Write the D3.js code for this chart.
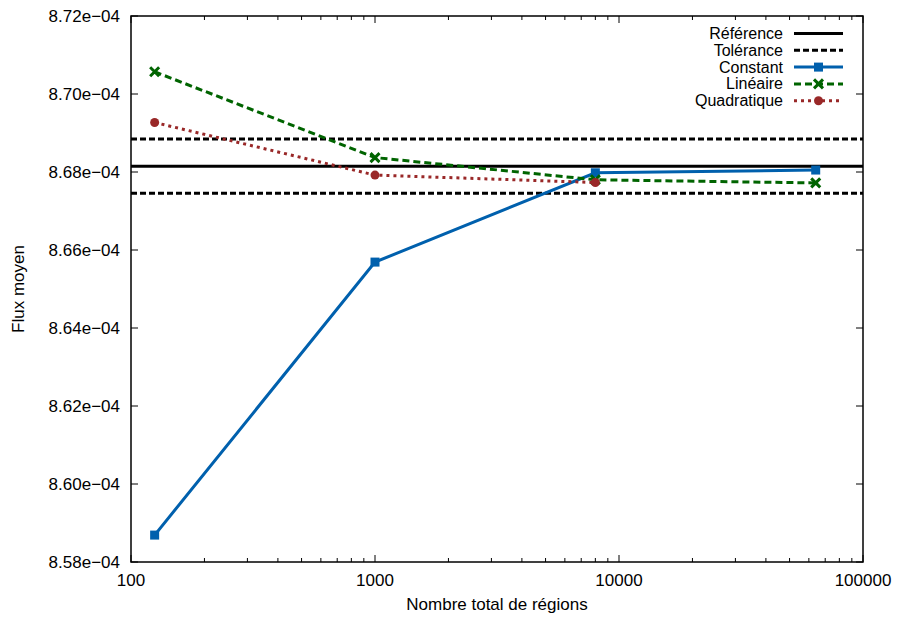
<!DOCTYPE html>
<html><head><meta charset="utf-8">
<script src="https://cdn.jsdelivr.net/npm/d3@7"></script>
<style>body{margin:0;background:#fff}svg text{font-family:"Liberation Sans",Arial,sans-serif;fill:#000}</style>
</head><body><svg id="c" width="897" height="617"></svg>
<script>
const regions = [125, 1000, 8000, 64000];
const constant = [8.5869e-4, 8.6569e-4, 8.6798e-4, 8.6805e-4];
const lineaire = [8.7057e-4, 8.6837e-4, 8.6780e-4, 8.6772e-4];
const quadratique = [8.6927e-4, 8.6792e-4, 8.6773e-4];
const reference = 8.6815e-4;
const tolerance = 0.0008;
const yTicks = [8.58e-4, 8.60e-4, 8.62e-4, 8.64e-4, 8.66e-4, 8.68e-4, 8.70e-4, 8.72e-4];
const xTicks = [100, 1000, 10000, 100000];
const legendLabels = ["Référence", "Tolérance", "Constant", "Linéaire", "Quadratique"];

const svg = d3.select("#c");
const L = 131, R = 863, T = 16, B = 562;
const FS = 17;
const x = d3.scaleLog().domain([100, 100000]).range([L, R]);
const y = d3.scaleLinear().domain([8.58e-4, 8.72e-4]).range([B, T]);

const fmt = v => (v * 1e4).toFixed(2) + "e\u221204";

const minor = [];
for (let d = 100; d < 100000; d *= 10) for (let k = 2; k <= 9; k++) minor.push(d * k);
const g = svg.append("g");
minor.forEach(v => {
  g.append("line").attr("x1", x(v)).attr("x2", x(v)).attr("y1", B).attr("y2", B - 4).attr("stroke", "#000");
  g.append("line").attr("x1", x(v)).attr("x2", x(v)).attr("y1", T).attr("y2", T + 4).attr("stroke", "#000");
});
xTicks.forEach(v => {
  g.append("line").attr("x1", x(v)).attr("x2", x(v)).attr("y1", B).attr("y2", B - 7).attr("stroke", "#000");
  g.append("line").attr("x1", x(v)).attr("x2", x(v)).attr("y1", T).attr("y2", T + 7).attr("stroke", "#000");
  g.append("text").attr("x", x(v)).attr("y", B + 24).attr("text-anchor", "middle").attr("font-size", FS).text(v);
});
yTicks.forEach(v => {
  g.append("line").attr("x1", L).attr("x2", L + 7).attr("y1", y(v)).attr("y2", y(v)).attr("stroke", "#000");
  g.append("line").attr("x1", R).attr("x2", R - 7).attr("y1", y(v)).attr("y2", y(v)).attr("stroke", "#000");
  g.append("text").attr("x", 120).attr("y", y(v) + 6).attr("text-anchor", "end").attr("font-size", FS).text(fmt(v));
});

svg.append("text").attr("x", 497).attr("y", 610).attr("text-anchor", "middle").attr("font-size", FS).text("Nombre total de régions");
svg.append("text").attr("transform", "translate(24," + ((T + B) / 2) + ") rotate(-90)").attr("text-anchor", "middle").attr("font-size", FS).text("Flux moyen");

svg.append("clipPath").attr("id", "clip").append("rect").attr("x", L).attr("y", T).attr("width", R - L).attr("height", B - T);
const p = svg.append("g").attr("clip-path", "url(#clip)");

const hline = (v, dash) => p.append("line").attr("x1", L).attr("x2", R).attr("y1", y(v)).attr("y2", y(v))
  .attr("stroke", "#000").attr("stroke-width", 3).attr("stroke-dasharray", dash);
hline(reference, null);
hline(reference * (1 + tolerance), "6,3");
hline(reference * (1 - tolerance), "6,3");

const series = [
  {vals: constant, color: "#0060ad", dash: null, mark: "square"},
  {vals: lineaire, color: "#006400", dash: "7,4", mark: "cross"},
  {vals: quadratique, color: "#992828", dash: "3,4", mark: "circle"}
];
const line = d3.line().x(d => x(d[0])).y(d => y(d[1]));
function marker(sel, type, cx, cy, color) {
  if (type === "square") sel.append("rect").attr("x", cx - 4.5).attr("y", cy - 4.5).attr("width", 9).attr("height", 9).attr("fill", color);
  else if (type === "circle") sel.append("circle").attr("cx", cx).attr("cy", cy).attr("r", 4.5).attr("fill", color);
  else sel.append("path").attr("d", `M${cx-4.5},${cy-4.5}L${cx+4.5},${cy+4.5}M${cx-4.5},${cy+4.5}L${cx+4.5},${cy-4.5}`).attr("stroke", color).attr("stroke-width", 3);
}
series.forEach(s => {
  const pts = s.vals.map((v, i) => [regions[i], v]);
  p.append("path").attr("d", line(pts)).attr("fill", "none").attr("stroke", s.color).attr("stroke-width", 3).attr("stroke-dasharray", s.dash);
  pts.forEach(d => marker(p, s.mark, x(d[0]), y(d[1]), s.color));
});

const ly0 = 33.5, ldy = 16.8;
const lstyles = [
  {color: "#000", dash: null, mark: null},
  {color: "#000", dash: "6,3", mark: null},
  ...series
];
legendLabels.forEach((lab, i) => {
  const yy = ly0 + i * ldy;
  svg.append("text").attr("x", 783).attr("y", yy + 5.5).attr("text-anchor", "end").attr("font-size", 16).text(lab);
  const st = lstyles[i];
  svg.append("line").attr("x1", 794).attr("x2", 843).attr("y1", yy).attr("y2", yy).attr("stroke", st.color).attr("stroke-width", 3).attr("stroke-dasharray", st.dash);
  if (st.mark) marker(svg, st.mark, 818.5, yy, st.color);
});

svg.append("rect").attr("x", L).attr("y", T).attr("width", R - L).attr("height", B - T).attr("fill", "none").attr("stroke", "#000").attr("stroke-width", 1.5);
</script></body></html>
